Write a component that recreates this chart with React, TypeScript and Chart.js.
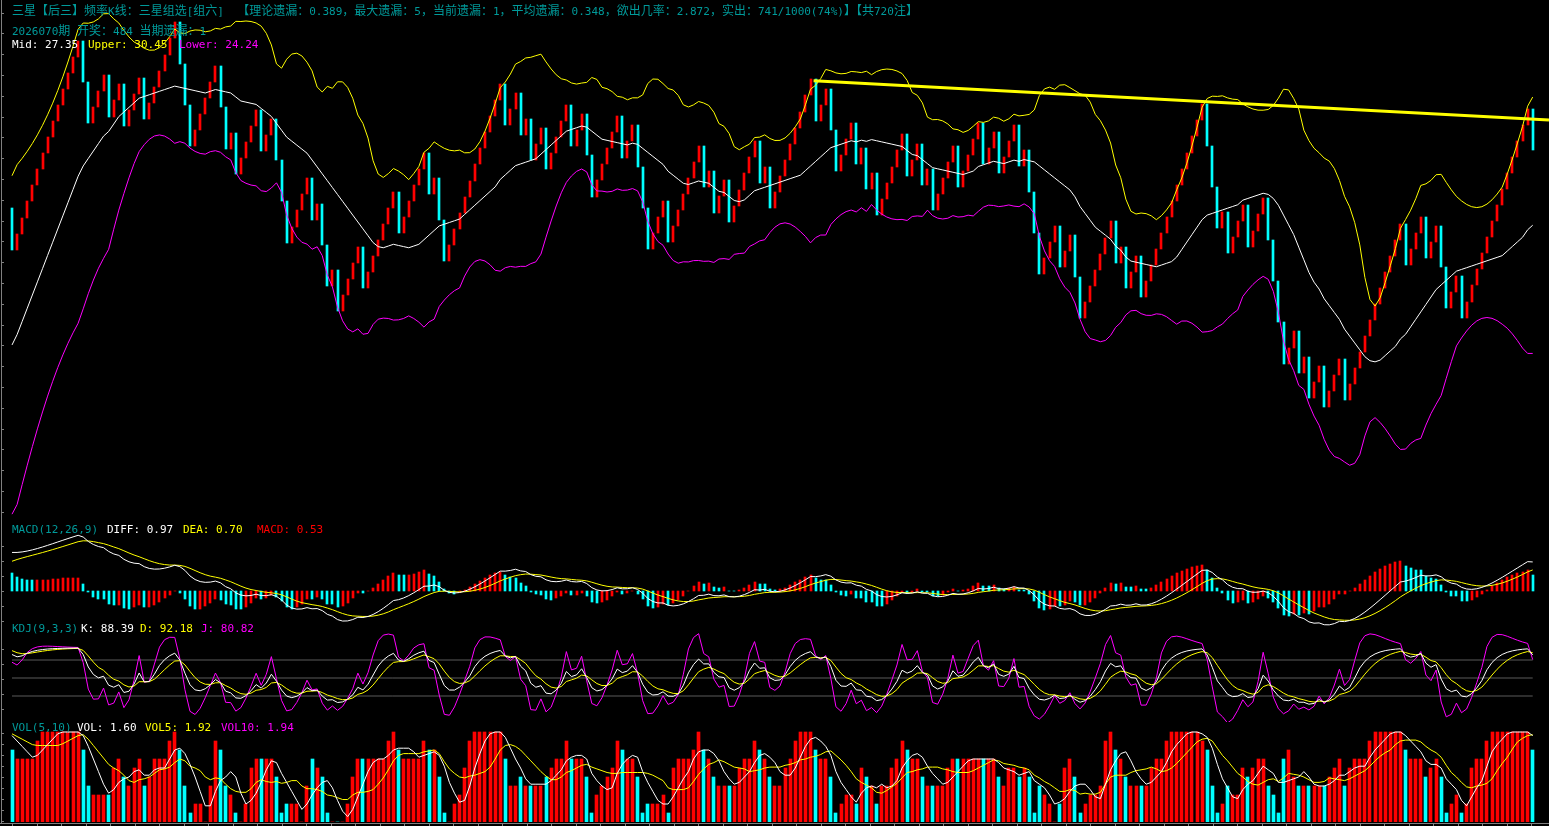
import React, { useEffect, useRef } from "react";
import { Chart, registerables } from "chart.js";
Chart.register(...registerables);

// ---------------- data ----------------
// closing value of each period (candle body runs from previous close to this close)
const closes = [
  26.757, 27.146, 27.535, 27.924, 28.313, 28.702, 29.091, 29.48, 29.869, 30.258,
  30.647, 31.036, 31.425, 31.814, 30.814, 29.814, 30.203, 30.592, 30.981, 29.981,
  30.37, 30.759, 29.759, 30.148, 30.537, 30.926, 29.926, 30.315, 30.704, 31.093,
  31.482, 31.871, 32.26, 31.26, 30.26, 29.26, 29.649, 30.038, 30.427, 30.816,
  31.205, 30.205, 29.205, 29.594, 28.594, 28.983, 29.372, 29.761, 30.15, 29.15,
  29.539, 29.928, 28.928, 27.928, 26.928, 27.317, 27.706, 28.095, 28.484, 27.484,
  27.873, 26.873, 25.873, 26.262, 25.262, 25.651, 26.04, 26.429, 26.818, 25.818,
  26.207, 26.596, 26.985, 27.374, 27.763, 28.152, 27.152, 27.541, 27.93, 28.319,
  28.708, 29.097, 28.097, 28.486, 27.486, 26.486, 26.875, 27.264, 27.653, 28.042,
  28.431, 28.82, 29.209, 29.598, 29.987, 30.376, 30.765, 29.765, 30.154, 30.543,
  29.543, 29.932, 28.932, 29.321, 29.71, 28.71, 29.099, 29.488, 29.877, 30.266,
  29.266, 29.655, 30.044, 29.044, 28.044, 28.433, 28.822, 29.211, 29.6, 29.989,
  28.989, 29.378, 29.767, 28.767, 27.767, 26.767, 27.156, 27.545, 27.934, 26.934,
  27.323, 27.712, 28.101, 28.49, 28.879, 29.268, 28.268, 28.657, 27.657, 28.046,
  28.435, 27.435, 27.824, 28.213, 28.602, 28.991, 29.38, 28.38, 28.769, 27.769,
  28.158, 28.547, 28.936, 29.325, 29.714, 30.103, 30.492, 30.881, 29.881, 30.27,
  30.659, 29.659, 28.659, 29.048, 29.437, 29.826, 28.826, 29.215, 28.215, 28.604,
  27.604, 27.993, 28.382, 28.771, 29.16, 29.549, 28.549, 28.938, 29.327, 28.327,
  28.716, 27.716, 28.105, 28.494, 28.883, 29.272, 28.272, 28.661, 29.05, 29.439,
  29.828, 28.828, 29.217, 29.606, 28.606, 28.995, 29.384, 29.773, 28.773, 29.162,
  28.162, 27.162, 26.162, 26.551, 26.94, 27.329, 26.329, 26.718, 27.107, 26.107,
  25.107, 25.496, 25.885, 26.274, 26.663, 27.052, 27.441, 26.441, 26.83, 25.83,
  26.219, 26.608, 25.608, 25.997, 26.386, 26.775, 27.164, 27.553, 27.942, 28.331,
  28.72, 29.109, 29.498, 29.887, 30.276, 29.276, 28.276, 27.276, 27.665, 26.665,
  27.054, 27.443, 27.832, 26.832, 27.221, 27.61, 27.999, 26.999, 25.999, 24.999,
  23.999, 24.388, 24.777, 23.777, 24.166, 23.166, 23.555, 23.944, 22.944, 23.333,
  23.722, 24.111, 23.111, 23.5, 23.889, 24.278, 24.667, 25.056, 25.445, 25.834,
  26.223, 26.612, 27.001, 27.39, 26.39, 26.779, 27.168, 27.557, 26.557, 26.946,
  27.335, 26.335, 25.335, 25.724, 26.113, 25.113, 25.502, 25.891, 26.28, 26.669,
  27.058, 27.447, 27.836, 28.225, 28.614, 29.003, 29.392, 29.781, 30.17, 29.17,
];

// volume of each period
const volumes = [
  1.6, 1.4, 1.4, 1.4, 1.4, 1.8, 2.0, 2.0, 2.0, 2.0,
  2.0, 2.0, 2.0, 2.0, 1.6, 0.8, 0.6, 0.6, 0.6, 0.6,
  1.2, 1.4, 1.0, 0.8, 1.2, 1.4, 0.8, 1.0, 1.4, 1.4,
  1.4, 1.8, 2.0, 1.6, 0.8, 0.2, 0.4, 0.4, 0, 0.8,
  1.8, 1.6, 0.8, 0.6, 0.2, 0, 0.4, 1.2, 1.4, 1.4,
  1.4, 1.4, 1.0, 0.2, 0.4, 0.4, 0.4, 0, 0.8, 1.4,
  1.2, 1.0, 0.2, 0, 0, 0, 0.4, 1.0, 1.4, 1.4,
  1.4, 1.4, 1.4, 1.4, 1.8, 2.0, 1.6, 1.4, 1.4, 1.4,
  1.4, 1.8, 1.6, 1.6, 1.0, 0.2, 0, 0.4, 0.6, 1.2,
  1.8, 2.0, 2.0, 2.0, 2.0, 2.0, 2.0, 1.4, 0.8, 0.8,
  1.0, 0.8, 0.8, 0.8, 0.8, 1.0, 1.2, 1.4, 1.4, 1.8,
  1.4, 1.4, 1.4, 1.0, 0.2, 0.6, 0.8, 1.0, 1.2, 1.8,
  1.6, 1.4, 1.4, 1.0, 0.2, 0.4, 0.4, 0.4, 0.6, 0.2,
  1.2, 1.4, 1.4, 1.4, 1.6, 2.0, 1.6, 1.4, 1.0, 0.8,
  0.8, 0.8, 0.8, 1.2, 1.4, 1.4, 1.8, 1.6, 1.4, 1.0,
  0.8, 0.8, 1.2, 1.4, 1.8, 2.0, 2.0, 2.0, 1.6, 1.4,
  1.4, 1.0, 0.2, 0.4, 0.6, 0.6, 0.4, 1.2, 1.0, 0.8,
  0.4, 0.8, 0.8, 1.2, 1.4, 1.8, 1.6, 1.4, 1.4, 1.0,
  0.8, 0.8, 0.8, 0.8, 1.2, 1.4, 1.4, 1.4, 1.4, 1.4,
  1.4, 1.4, 1.4, 1.4, 1.0, 0.8, 1.2, 1.2, 1.0, 1.2,
  1.0, 0.2, 0.8, 0.6, 0.4, 0, 0.4, 1.2, 1.4, 1.0,
  0.2, 0.4, 0.6, 0.6, 0.8, 1.8, 2.0, 1.6, 1.4, 1.0,
  0.8, 0.8, 0.8, 0.8, 1.2, 1.4, 1.4, 1.8, 2.0, 2.0,
  2.0, 2.0, 2.0, 2.0, 1.8, 1.6, 0.8, 0.2, 0.4, 0.8,
  0.6, 0.6, 1.2, 1.0, 1.2, 1.4, 1.4, 0.8, 0.6, 0.2,
  1.4, 1.6, 1.0, 0.8, 0.8, 0.8, 0.8, 0.8, 0.8, 1.0,
  1.2, 1.4, 0.8, 1.2, 1.4, 1.4, 1.4, 1.8, 2.0, 2.0,
  2.0, 2.0, 2.0, 2.0, 1.6, 1.4, 1.4, 1.4, 1.0, 1.2,
  1.4, 1.0, 0.2, 0.4, 0.6, 0.2, 0.4, 1.2, 1.4, 1.4,
  1.8, 2.0, 2.0, 2.0, 2.0, 2.0, 2.0, 2.0, 2.0, 1.6,
];

// periods before the visible window (not drawn, they only seed the indicators)
const warmupCloses = [
  21.753, 22.142, 22.531, 22.92, 21.92, 22.309, 22.698, 23.087, 22.087, 22.476,
  22.865, 21.865, 22.254, 22.643, 23.032, 22.032, 22.421, 22.81, 21.81, 22.199,
  22.588, 22.977, 21.977, 22.366, 22.755, 21.755, 22.144, 21.144, 21.533, 21.922,
  22.311, 22.7, 23.089, 23.478, 23.867, 24.256, 24.645, 25.034, 25.423, 25.812,
  26.201, 26.59, 26.979, 27.368, 27.757,
];
const warmupVolumes = [
  1.0, 1.2, 1.4, 0.6, 1.0, 1.2, 1.4, 0.4, 1.0, 1.2,
  0.6, 0.8, 1.2, 1.4, 0.4, 1.0, 1.2, 0.6, 0.8, 1.2,
  1.4, 0.4, 1.0, 1.2, 0.6, 0.8, 1.2, 0.4, 0.6, 1.0,
  0.6, 1.0, 1.2, 1.4, 1.6, 1.8, 2.0, 2.0, 2.0, 2.0,
  2.0, 2.0, 2.0, 2.0, 2.0,
];

// hand-drawn resistance line: [period index, value]
const trendX = [157.6, 302.2];
const trendY = [30.85, 29.9];

const kdjLevels = [20, 50, 80];

const titleLine1 =
  "三星【后三】频率K线：三星组选[组六]  【理论遗漏：0.389，最大遗漏：5，当前遗漏：1，平均遗漏：0.348，欲出几率：2.872，实出：741/1000(74%)】【共720注】";
const titleLine2 = "2026070期 开奖：484 当期遗漏：1";

// ---------------- layout ----------------
const W = 1549;
const H = 826;
const PITCH = 5.086;
const FIRST_X = 12;
const XMIN = -FIRST_X / PITCH;
const XMAX = XMIN + W / PITCH;

const RED = "#ff0000";
const CYAN = "#00ffff";
const YELLOW = "#ffff00";
const MAGENTA = "#ff00ff";
const WHITE = "#ffffff";
const TEAL = "#009a9a";
const AXIS = "#808080";

const PRICE_REF = 27.35;
const PRICE_REF_Y = 225.2;
const PRICE_PX = 41.3;

const panels = {
  main: { top: 0, height: 522, min: PRICE_REF - (522 - PRICE_REF_Y) / PRICE_PX, max: PRICE_REF + PRICE_REF_Y / PRICE_PX },
  macd: { top: 530, height: 100, min: -39 / 30, max: 61 / 30 },
  kdj: { top: 630, height: 92, min: 100 - 74 / 0.6, max: 100 + 18 / 0.6 },
  vol: { top: 726, height: 96, min: 0, max: 96 / 45 },
};

function computeAll() {
  const allC = [...warmupCloses, ...closes];
  const allV = [...warmupVolumes, ...volumes];
  const n0 = warmupCloses.length;
  const allO = allC.map((c, j) => (j === 0 ? c : allC[j - 1]));
  const hi = allC.map((c, j) => Math.max(c, allO[j]));
  const lo = allC.map((c, j) => Math.min(c, allO[j]));

  const mid: number[] = [], up: number[] = [], dn: number[] = [];
  const diffA: number[] = [], deaA: number[] = [], histA: number[] = [];
  const kA: number[] = [], dA: number[] = [], jA: number[] = [];
  const v5: number[] = [], v10: number[] = [];

  let e12 = allC[0], e26 = allC[0], dea = 0, k = 50, d = 50;
  for (let j = 0; j < allC.length; j++) {
    const c = allC[j];
    // BOLL(20,2)
    const w = allC.slice(Math.max(0, j - 19), j + 1);
    const m = w.reduce((a, b) => a + b, 0) / w.length;
    const sd = Math.sqrt(w.reduce((a, b) => a + (b - m) * (b - m), 0) / w.length);
    mid.push(m); up.push(m + 2 * sd); dn.push(m - 2 * sd);
    // MACD(12,26,9)
    if (j > 0) {
      e12 += (2 / 13) * (c - e12);
      e26 += (2 / 27) * (c - e26);
    }
    const diff = e12 - e26;
    dea += 0.2 * (diff - dea);
    diffA.push(diff); deaA.push(dea); histA.push(2 * (diff - dea));
    // KDJ(9,3,3)
    const hh = Math.max(...hi.slice(Math.max(0, j - 8), j + 1));
    const ll = Math.min(...lo.slice(Math.max(0, j - 8), j + 1));
    const rsv = hh === ll ? 50 : ((c - ll) / (hh - ll)) * 100;
    k = (2 * k + rsv) / 3;
    d = (2 * d + k) / 3;
    kA.push(k); dA.push(d); jA.push(3 * k - 2 * d);
    // VOL MA
    const w5 = allV.slice(Math.max(0, j - 4), j + 1);
    const w10 = allV.slice(Math.max(0, j - 9), j + 1);
    v5.push(w5.reduce((a, b) => a + b, 0) / w5.length);
    v10.push(w10.reduce((a, b) => a + b, 0) / w10.length);
  }
  const vis = (arr: number[]) => arr.slice(n0).map((y, i) => ({ x: i, y }));
  const candleColors = closes.map((c, i) => (c >= allO[n0 + i] ? RED : CYAN));
  const histColors = closes.map((_, i) => (histA[n0 + i] >= histA[n0 + i - 1] ? RED : CYAN));
  return {
    candles: closes.map((c, i) => ({ x: i, y: [allO[n0 + i], c] })),
    candleColors,
    mid: vis(mid), up: vis(up), dn: vis(dn),
    diff: vis(diffA), dea: vis(deaA), hist: vis(histA), histColors,
    k: vis(kA), d: vis(dA), j: vis(jA),
    vol: volumes.map((v, i) => ({ x: i, y: v })),
    v5: vis(v5), v10: vis(v10),
  };
}

// snap bar rectangles to whole pixels so thin bars stay crisp
const snapBars = {
  id: "snapBars",
  afterDatasetsUpdate(chart: any) {
    chart.data.datasets.forEach((_: any, i: number) => {
      const meta = chart.getDatasetMeta(i);
      if (meta.type !== "bar") return;
      meta.data.forEach((el: any) => {
        const w = el.width;
        el.x = Math.round(el.x - w / 2) + w / 2;
        el.y = Math.round(el.y);
        el.base = Math.round(el.base);
      });
    });
  },
};

function line(data: any[], color: string, width = 1, order = 1) {
  return { type: "line", data, borderColor: color, borderWidth: width, pointRadius: 0, tension: 0, fill: false, order };
}

function makeChart(canvas: HTMLCanvasElement, datasets: any[], min: number, max: number) {
  return new Chart(canvas, {
    type: "bar",
    data: { datasets },
    plugins: [snapBars],
    options: {
      responsive: false,
      animation: false,
      devicePixelRatio: 1,
      events: [],
      layout: { padding: 0 },
      plugins: { legend: { display: false }, tooltip: { enabled: false } },
      scales: {
        x: { type: "linear", min: XMIN, max: XMAX, display: false, offset: false },
        y: { type: "linear", min, max, display: false },
      },
    } as any,
  } as any);
}

const LATIN_FONT = '"DejaVu Sans Mono", monospace';
const CJK_FONT = '"Noto Sans CJK SC", sans-serif';

const labelFont: React.CSSProperties = {
  position: "absolute",
  fontFamily: LATIN_FONT,
  fontSize: 11,
  lineHeight: "14px",
  whiteSpace: "pre",
};

// full-width (CJK) runs are drawn 12px wide, half-width text in an 11px monospace
function Mixed({ text }: { text: string }) {
  const parts = text.split(/([\u3000-\u303f\u3400-\u9fff\uff00-\uffef]+)/).filter((p) => p.length > 0);
  return (
    <>
      {parts.map((p, i) =>
        /[\u3000-\u303f\u3400-\u9fff\uff00-\uffef]/.test(p) ? (
          <span key={i} style={{ fontFamily: CJK_FONT, fontSize: 12 }}>{p}</span>
        ) : (
          <span key={i}>{p}</span>
        )
      )}
    </>
  );
}

function Label({ x, y, color, text }: { x: number; y: number; color: string; text: string }) {
  return (
    <div style={{ ...labelFont, left: x, top: y - 7, color }}>
      <Mixed text={text} />
    </div>
  );
}

export default function App() {
  const mainRef = useRef<HTMLCanvasElement>(null);
  const macdRef = useRef<HTMLCanvasElement>(null);
  const kdjRef = useRef<HTMLCanvasElement>(null);
  const volRef = useRef<HTMLCanvasElement>(null);

  useEffect(() => {
    document.body.style.margin = "0";
    document.body.style.background = "#000";
    const s = computeAll();
    const charts: Chart[] = [];
    charts.push(
      makeChart(mainRef.current!, [
        { type: "bar", data: s.candles, backgroundColor: s.candleColors, barThickness: 2, borderWidth: 0, order: 5 },
        line(s.mid, WHITE),
        line(s.up, YELLOW),
        line(s.dn, MAGENTA),
        line(trendX.map((x, i) => ({ x, y: trendY[i] })), YELLOW, 3, 0),
      ], panels.main.min, panels.main.max)
    );
    charts.push(
      makeChart(macdRef.current!, [
        { type: "bar", data: s.hist, backgroundColor: s.histColors, barThickness: 2, borderWidth: 0, order: 5 },
        line(s.diff, WHITE),
        line(s.dea, YELLOW),
      ], panels.macd.min, panels.macd.max)
    );
    charts.push(
      makeChart(kdjRef.current!, [
        ...kdjLevels.map((lv) => line([{ x: 0, y: lv }, { x: closes.length - 1, y: lv }], "#5a5a5a", 1, 9)),
        line(s.j, MAGENTA, 1, 3),
        line(s.d, YELLOW, 1, 2),
        line(s.k, WHITE, 1, 1),
      ], panels.kdj.min, panels.kdj.max)
    );
    charts.push(
      makeChart(volRef.current!, [
        { type: "bar", data: s.vol, backgroundColor: s.candleColors, barThickness: 3, borderWidth: 0, order: 5 },
        line(s.v5, WHITE),
        line(s.v10, YELLOW),
      ], panels.vol.min, panels.vol.max)
    );
    return () => charts.forEach((c) => c.destroy());
  }, []);

  const canvasStyle = (p: { top: number; height: number }): React.CSSProperties => ({
    position: "absolute", left: 0, top: p.top, width: W, height: p.height,
  });

  // axis decoration tick positions
  const leftTicks: number[] = [];
  for (let y = 12.6; y < 522; y += 20.8) leftTicks.push(Math.round(y));
  for (let y = 546; y < 628; y += 15) leftTicks.push(y);
  for (let y = 649; y < 720; y += 15) leftTicks.push(y);
  for (let y = 733; y < 822; y += 11) leftTicks.push(y);
  const bottomTicks: number[] = [];
  for (let x = 12; x < W; x += 24.5) bottomTicks.push(Math.round(x));

  return (
    <div style={{ position: "fixed", left: 0, top: 0, width: W, height: H, background: "#000", overflow: "hidden" }}>
      <canvas ref={mainRef} width={W} height={panels.main.height} style={canvasStyle(panels.main)} />
      <canvas ref={macdRef} width={W} height={panels.macd.height} style={canvasStyle(panels.macd)} />
      <canvas ref={kdjRef} width={W} height={panels.kdj.height} style={canvasStyle(panels.kdj)} />
      <canvas ref={volRef} width={W} height={panels.vol.height} style={canvasStyle(panels.vol)} />

      <div style={{ position: "absolute", left: 1, top: 0, width: 1, height: 823, background: AXIS }} />
      {leftTicks.map((y) => (
        <div key={"l" + y} style={{ position: "absolute", left: 1, top: y, width: 3, height: 1, background: AXIS }} />
      ))}
      <div style={{ position: "absolute", left: 0, top: 823, width: W, height: 1, background: AXIS }} />
      {bottomTicks.map((x) => (
        <div key={"b" + x} style={{ position: "absolute", left: x, top: 823, width: 1, height: 3, background: AXIS }} />
      ))}

      <Label x={12} y={10} color={TEAL} text={titleLine1} />
      <Label x={12} y={30} color={TEAL} text={titleLine2} />
      <Label x={12} y={45} color={WHITE} text="Mid: 27.35" />
      <Label x={88} y={45} color={YELLOW} text="Upper: 30.45" />
      <Label x={179} y={45} color={MAGENTA} text="Lower: 24.24" />

      <Label x={12} y={530} color={TEAL} text="MACD(12,26,9)" />
      <Label x={107} y={530} color={WHITE} text="DIFF: 0.97" />
      <Label x={183} y={530} color={YELLOW} text="DEA: 0.70" />
      <Label x={257} y={530} color={RED} text="MACD: 0.53" />

      <Label x={12} y={629} color={TEAL} text="KDJ(9,3,3)" />
      <Label x={81} y={629} color={WHITE} text="K: 88.39" />
      <Label x={140} y={629} color={YELLOW} text="D: 92.18" />
      <Label x={201} y={629} color={MAGENTA} text="J: 80.82" />

      <Label x={12} y={728} color={TEAL} text="VOL(5,10)" />
      <Label x={77} y={728} color={WHITE} text="VOL: 1.60" />
      <Label x={145} y={728} color={YELLOW} text="VOL5: 1.92" />
      <Label x={221} y={728} color={MAGENTA} text="VOL10: 1.94" />
    </div>
  );
}
